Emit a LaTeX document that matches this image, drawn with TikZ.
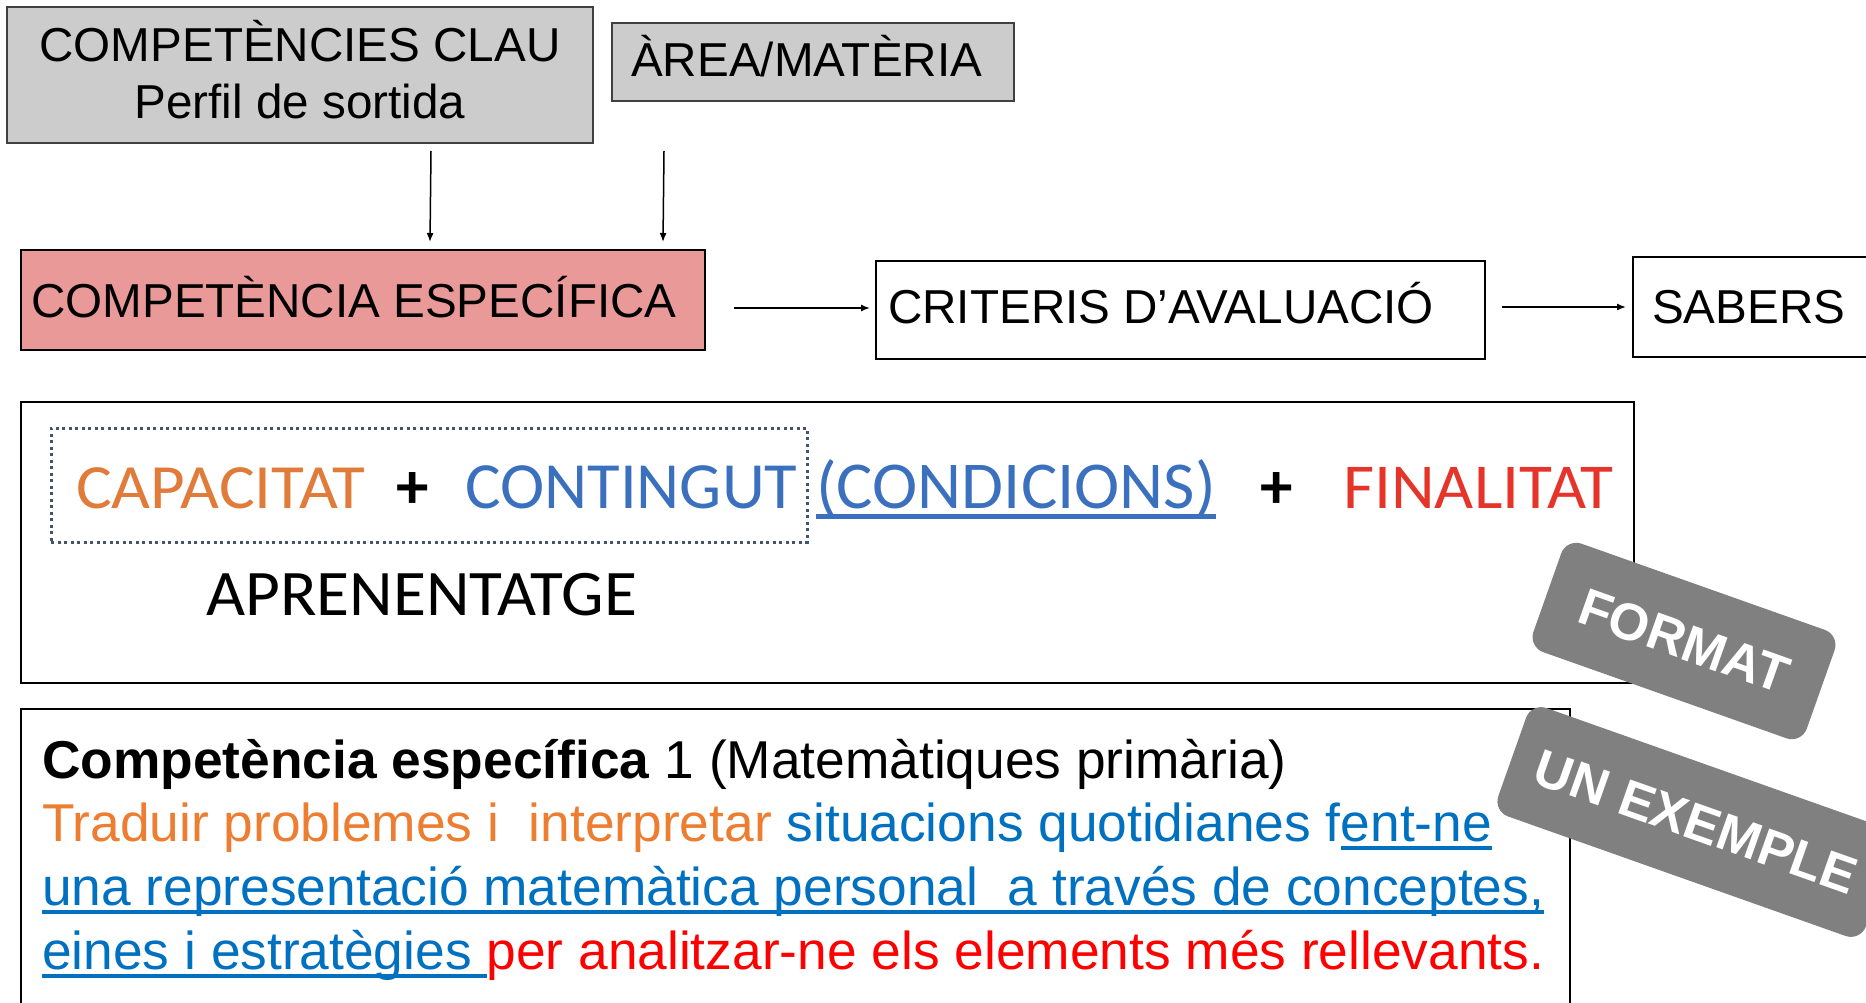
\documentclass[tikz,border=0pt]{standalone}
\usepackage{fontspec}
\setmainfont{Liberation Sans}
\newfontfamily\calib{Carlito}
\usetikzlibrary{arrows.meta}
\definecolor{boxgray}{HTML}{CCCCCC}
\definecolor{pinkfill}{HTML}{EA9999}
\definecolor{dotcol}{HTML}{44546A}
\definecolor{capor}{HTML}{E07B39}
\definecolor{conblue}{HTML}{3B70BE}
\definecolor{finred}{HTML}{E5352B}
\definecolor{txor}{HTML}{ED7D31}
\definecolor{txblue}{HTML}{0070C0}
\definecolor{txred}{HTML}{FF0000}
\definecolor{badgegray}{HTML}{808080}
\newcommand\myul[1]{\setbox0\hbox{#1}\rlap{\rule[-0.16em]{\wd0}{0.075em}}\box0}
\newcommand\hdrfont{\fontsize{47.6}{57}\selectfont}
\newcommand\botfont{\fontsize{53.3}{64}\selectfont}
\tikzset{
  boxbase/.style={rectangle, inner sep=0pt, outer sep=0pt, line width=2pt},
  graybox/.style={boxbase, draw=black!75, fill=boxgray},
  pinkbox/.style={boxbase, draw=black, fill=pinkfill, line width=2.5pt},
  plainbox/.style={boxbase, draw=black},
  dotbox/.style={boxbase, draw=dotcol, line width=3pt, dash pattern=on 3pt off 3.5pt},
  hdr/.style={inner sep=0pt, font=\hdrfont, text=black},
  frm/.style={inner sep=0pt, anchor=base west},
  bot/.style={inner sep=0pt, anchor=base west, font=\botfont},
  arr/.style={line width=1.5pt, -{Latex[length=9pt,width=7pt]}},
  badge/.style={fill=badgegray, rounded corners=16pt, text=white, inner sep=0pt,
    font=\bfseries\fontsize{52}{60}\selectfont, rotate=-19.5},
}
\begin{document}
\begin{tikzpicture}[x=1pt,y=-1pt]
\useasboundingbox (0,0) rectangle (1866,1003);
\clip (0,0) rectangle (1866,1003);
\fill[white] (0,0) rectangle (1866,1003);

% top boxes
\node[graybox, minimum width=586pt, minimum height=136pt] (ck) at (300,75) {};
\node[hdr, anchor=base] (ckt1) at (300,62) {COMPETÈNCIES CLAU};
\node[hdr, anchor=base] (ckt2) at (300,119) {Perfil de sortida};

\node[graybox, minimum width=402pt, minimum height=78pt] (am) at (813,62) {};
\node[hdr, anchor=base west] (amt) at (631,77) {ÀREA/MATÈRIA};

\node[pinkbox, minimum width=684pt, minimum height=100pt] (es) at (363,300) {};
\node[hdr, anchor=base west] (est) at (31,317) {COMPETÈNCIA ESPECÍFICA};

\node[plainbox, minimum width=609pt, minimum height=98pt] (cr) at (1180.5,310) {};
\node[hdr, anchor=base west] (crt) at (888,323) {CRITERIS D’AVALUACIÓ};

\node[plainbox, minimum width=267pt, minimum height=100pt] (sb) at (1766.5,307) {};
\node[hdr, anchor=base west] (sbt) at (1652,323) {SABERS};

% arrows
\draw[arr] ([xshift=131pt,yshift=-8pt]ck.south) -- ([xshift=67pt,yshift=8pt]es.north);
\draw[arr] ([xshift=-149pt,yshift=-50pt]am.south) -- ([xshift=300pt,yshift=8pt]es.north);
\draw[arr] ([xshift=29pt,yshift=-8pt]es.east) -- ([xshift=-6pt,yshift=2pt]cr.west);
\draw[arr] ([xshift=17pt,yshift=3pt]cr.east) -- ([xshift=-7pt]sb.west);

% formula box
\node[plainbox, minimum width=1613pt, minimum height=281pt] (fb) at (827.5,542.5) {};
\node[dotbox, minimum width=756pt, minimum height=114pt] (db) at (429,485) {};
\node[frm, text=capor, font=\calib\fontsize{63}{70}\selectfont] (cap) at (76,508) {\scalebox{1.066}[1]{CAPACITAT}};
\node[inner sep=0pt, anchor=base, font=\calib\bfseries\fontsize{65}{70}\selectfont] (pl1) at (413,508) {+};
\node[frm, text=conblue, font=\calib\fontsize{66}{70}\selectfont] (con) at (465,508) {\scalebox{1.011}[1]{CONTINGUT}};
\node[frm, text=conblue, font=\calib\fontsize{67}{70}\selectfont] (cond) at (816,508) {\scalebox{1.018}[1]{\myul{(CONDICIONS)}}};
\node[inner sep=0pt, anchor=base, font=\calib\bfseries\fontsize{65}{70}\selectfont] (pl2) at (1277,508) {+};
\node[frm, text=finred, font=\calib\fontsize{64}{70}\selectfont] (fin) at (1343,508) {\scalebox{1.056}[1]{FINALITAT}};
\node[frm, text=black, font=\calib\fontsize{65}{70}\selectfont] (apr) at (206,615) {\scalebox{1.037}[1]{APRENENTATGE}};

% example box
\node[plainbox, minimum width=1549pt, minimum height=330pt] (eb) at (795.5,874) {};
\node[bot] (l1) at (42,778) {\textbf{Competència específica} 1 (Matemàtiques primària)};
\node[bot] (l2) at (42,841) {{\color{txor}Traduir problemes i~ interpretar} {\color{txblue}situacions quotidianes f\myul{ent-ne}}};
\node[bot, text=txblue] (l3) at (42,905) {\myul{una representació matemàtica personal~ a través de conceptes,}};
\node[bot] (l4) at (42,969) {{\color{txblue}\myul{eines i estratègies\ }}{\color{txred}per analitzar-ne els elements més rellevants.}};

% badges
\node[badge, minimum width=290pt, minimum height=115pt] (fmt) at (1684,641) {FORMAT};
\node[badge, minimum width=390pt, minimum height=115pt] (unx) at (1696,822) {UN EXEMPLE};
\end{tikzpicture}
\end{document}
